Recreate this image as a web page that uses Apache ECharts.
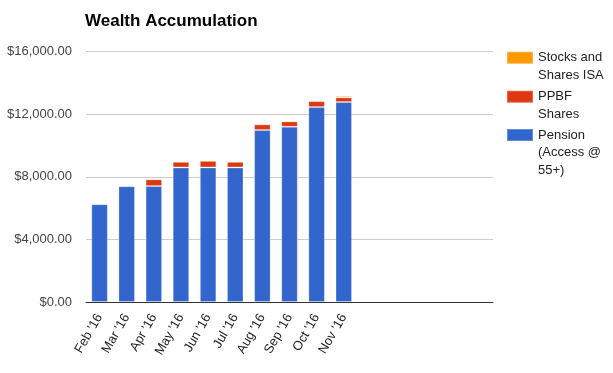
<!DOCTYPE html>
<html>
<head>
<meta charset="utf-8">
<script src="https://cdn.jsdelivr.net/npm/echarts@6/dist/echarts.min.js"></script>
<style>
html,body{margin:0;padding:0;background:#fff;}
#c{width:613px;height:373px;}
</style>
</head>
<body>
<div id="c"></div>
<script>
var categories = ["Feb '16","Mar '16","Apr '16","May '16","Jun '16","Jul '16","Aug '16","Sep '16","Oct '16","Nov '16","","","","",""];
var pension = [6250, 7400, 7410, 8600, 8600, 8600, 10990, 11200, 12460, 12780, null, null, null, null, null];
var ppbf = [null, null, 430, 360, 420, 360, 365, 346, 380, 300, null, null, null, null, null];
var isa = [null, null, null, null, null, null, null, null, null, 100, null, null, null, null, null];
var yTicks = [0, 4000, 8000, 12000, 16000];

var FONT = "'Liberation Sans', Arial, sans-serif";
function money(v){
  var s = Math.round(v).toString().replace(/\B(?=(\d{3})+(?!\d))/g, ',');
  return '$' + s + '.00';
}
var chart = echarts.init(document.getElementById('c'), null, {renderer:'canvas'});
var barStyle = function(c){ return {color:c, borderColor:'rgba(255,255,255,0.25)', borderWidth:1}; };
function leg(name, text, top){
  return {
    data:[{name:name, icon:'rect'}], left:506, top:top, orient:'vertical', padding:0,
    itemWidth:26, itemHeight:12, selectedMode:false,
    formatter:function(){ return text; },
    textStyle:{fontFamily:FONT, fontSize:13, color:'#222', lineHeight:17.5}
  };
}
chart.setOption({
  animation:false,
  textStyle:{fontFamily:FONT},
  title:{text:'Wealth Accumulation', left:85, top:13, padding:0,
    textStyle:{fontFamily:FONT, fontSize:17, fontWeight:'bold', color:'#000'}},
  legend:[
    leg('Stocks and Shares ISA', '\nStocks and\nShares ISA', 31.5),
    leg('PPBF Shares', '\nPPBF\nShares', 70.5),
    leg('Pension (Access @ 55+)', '\n\nPension\n(Access @\n55+)', 91.25)
  ],
  grid:{left:86, top:51.7, right:120, bottom:71, containLabel:false},
  xAxis:{
    type:'category', data:categories,
    axisTick:{show:false},
    axisLine:{lineStyle:{color:'#333', width:1}},
    axisLabel:{interval:0, rotate:60, margin:13, fontSize:13, color:'#222', fontFamily:FONT}
  },
  yAxis:{
    type:'value', min:yTicks[0], max:yTicks[yTicks.length-1], interval:4000,
    axisLine:{show:false}, axisTick:{show:false},
    splitLine:{lineStyle:{color:'#ccc', width:1}},
    axisLabel:{formatter:money, fontSize:13, color:'#444', margin:14, fontFamily:FONT}
  },
  series:[
    {name:'Pension (Access @ 55+)', type:'bar', stack:'w', data:pension, barWidth:16.5, itemStyle:barStyle('#3366cc')},
    {name:'PPBF Shares', type:'bar', stack:'w', data:ppbf, barWidth:16.5, itemStyle:barStyle('#dc3912')},
    {name:'Stocks and Shares ISA', type:'bar', stack:'w', data:isa, barWidth:16.5, itemStyle:barStyle('#ff9900')}
  ]
});
</script>
</body>
</html>
